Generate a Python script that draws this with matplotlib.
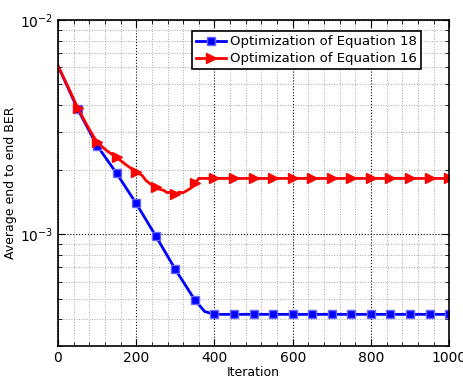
import matplotlib
matplotlib.use("Agg")
import matplotlib.pyplot as plt
from matplotlib.ticker import MultipleLocator, LogLocator, NullFormatter

# Optimization of Equation 18 (blue, squares)
iter18 = [0, 25, 50, 75, 100, 150, 200, 250, 300, 350, 375, 400, 450, 500, 550, 600,
          650, 700, 750, 800, 850, 900, 950, 1000]
ber18 = [6.1e-3, 4.85e-3, 3.84e-3, 3.15e-3, 2.59e-3, 1.92e-3, 1.39e-3, 0.98e-3,
         6.84e-4, 4.92e-4, 4.35e-4, 4.22e-4, 4.22e-4, 4.22e-4, 4.22e-4, 4.22e-4,
         4.22e-4, 4.22e-4, 4.22e-4, 4.22e-4, 4.22e-4, 4.22e-4, 4.22e-4, 4.22e-4]
mark18 = [2, 4, 5, 6, 7, 8, 9, 11, 12, 13, 14, 15, 16, 17, 18, 19, 20, 21, 22, 23]

# Optimization of Equation 16 (red, triangles)
iter16 = [0, 25, 50, 75, 100, 125, 150, 175, 200, 215, 225, 235, 250, 260, 270, 280,
          290, 300, 310, 320, 330, 340, 350, 360, 400, 450, 500, 550, 600, 650, 700,
          750, 800, 850, 900, 950, 1000]
ber16 = [6.1e-3, 4.9e-3, 3.9e-3, 3.2e-3, 2.68e-3, 2.45e-3, 2.28e-3, 2.1e-3, 1.95e-3,
         1.88e-3, 1.78e-3, 1.72e-3, 1.66e-3, 1.62e-3, 1.6e-3, 1.56e-3, 1.58e-3,
         1.54e-3, 1.57e-3, 1.56e-3, 1.6e-3, 1.64e-3, 1.73e-3, 1.82e-3, 1.82e-3,
         1.82e-3, 1.82e-3, 1.82e-3, 1.82e-3, 1.82e-3, 1.82e-3, 1.82e-3, 1.82e-3,
         1.82e-3, 1.82e-3, 1.82e-3, 1.82e-3]
mark16 = [2, 4, 6, 8, 12, 17, 22, 24, 25, 26, 27, 28, 29, 30, 31, 32, 33, 34, 35, 36]

labels = ["Optimization of Equation 18", "Optimization of Equation 16"]
xticks = [0, 200, 400, 600, 800, 1000]

fig = plt.figure(figsize=(4.64, 3.77), dpi=100)
ax = fig.add_axes([0.125, 0.082, 0.843, 0.865])

ax.plot(iter18, ber18, color="blue", lw=2, marker="s", ms=6, markevery=mark18,
        mfc="blue", mec=(0.4, 0.4, 1.0), mew=1, label=labels[0])
ax.plot(iter16, ber16, color="red", lw=2, marker=">", ms=6.5, markevery=mark16,
        mfc="red", mec="red", label=labels[1])

ax.set_yscale("log")
ax.set_xlim(0, 1000)
ax.set_ylim(3e-4, 1e-2)
ax.set_xticks(xticks)
ax.xaxis.set_minor_locator(MultipleLocator(40))
ax.yaxis.set_major_locator(LogLocator(base=10, numticks=10))
ax.yaxis.set_minor_locator(LogLocator(base=10, subs=range(2, 10), numticks=20))
ax.yaxis.set_minor_formatter(NullFormatter())

ax.grid(True, which="major", linestyle=":", color="black", lw=0.8)
ax.grid(True, which="minor", linestyle=":", color="0.65", lw=0.7)
ax.tick_params(which="both", direction="in", top=True, right=True, labelsize=10)
ax.tick_params(which="major", length=5)
ax.tick_params(which="minor", length=3)
for s in ax.spines.values():
    s.set_linewidth(1.2)

ax.set_xlabel("Iteration", fontsize=9, labelpad=1)
ax.set_ylabel("Average end to end BER", fontsize=9, labelpad=2)

leg = ax.legend(loc="upper right", bbox_to_anchor=(0.945, 0.985), fontsize=9.5,
                fancybox=False, framealpha=1, edgecolor="black",
                borderpad=0.3, labelspacing=0.3, handlelength=2.3, handletextpad=0.3)
leg.get_frame().set_linewidth(1.2)

fig.savefig("out.png", dpi=100)
